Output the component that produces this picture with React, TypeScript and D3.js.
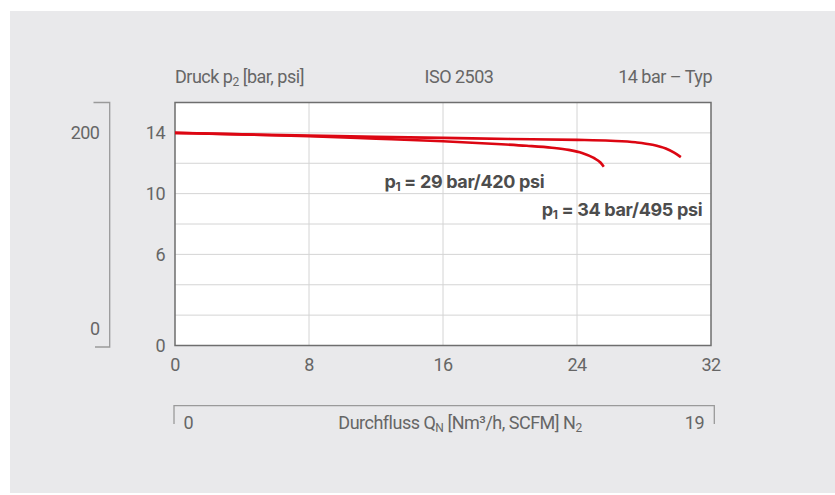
import React from "react";
import * as d3 from "d3";

// ---- data ----
const xTicks = [0, 8, 16, 24, 32];
const yTickLabels = [0, 6, 10, 14];
const yGrid = [2, 4, 6, 8, 10, 12, 14];
const xGrid = [8, 16, 24];
const psiTicks = [200, 0];

// p1 = 34 bar / 495 psi
const flow34 = [0, 4, 8, 12, 16, 20, 24, 26, 27.5, 28.5, 29.3, 29.8, 30.2];
const p2_34 = [14.0, 13.9, 13.82, 13.74, 13.67, 13.6, 13.54, 13.48, 13.38, 13.22, 12.97, 12.7, 12.4];
// p1 = 29 bar / 420 psi
const flow29 = [0, 4, 8, 12, 16, 19.2, 21, 22.5, 23.5, 24.3, 25.0, 25.4, 25.6];
const p2_29 = [14.0, 13.9, 13.78, 13.62, 13.45, 13.27, 13.15, 13.02, 12.88, 12.68, 12.35, 12.05, 11.77];

const seriesLabels = [
  { p: "29 bar/420 psi", x: 12.5, y: 10.4 },
  { p: "34 bar/495 psi", x: 21.9, y: 8.5 },
];

const W = 835;
const H = 495;
const M = { left: 175, right: 711, top: 102.5, bottom: 345.5 };
const FONT = "Roboto, 'Liberation Sans', sans-serif";
const GRAY = "#666";

export default function App() {
  const x = d3.scaleLinear().domain([0, 32]).range([M.left, M.right]);
  const y = d3.scaleLinear().domain([0, 16]).range([M.bottom, M.top]);
  const line = d3
    .line<[number, number]>()
    .x((d) => x(d[0]))
    .y((d) => y(d[1]))
    .curve(d3.curveMonotoneX);

  const s34 = flow34.map((f, i) => [f, p2_34[i]] as [number, number]);
  const s29 = flow29.map((f, i) => [f, p2_29[i]] as [number, number]);

  const psiY = (psi: number) => Math.min(y(psi / 14.5038), M.bottom - 14);

  const txt = {
    fontFamily: FONT,
    fontSize: 18,
    fill: GRAY,
    letterSpacing: "-0.5px",
  } as React.CSSProperties;

  return (
    <div style={{ position: "absolute", left: 0, top: 0 }}>
      <svg width={W} height={H} style={{ display: "block" }}>
        <rect x={10} y={11} width={W - 10} height={482} fill="#e9e9eb" />

        {/* header */}
        <text x={M.left} y={83} style={txt}>
          Druck p
          <tspan fontSize={12} dy={3}>2</tspan>
          <tspan dy={-3}> [bar, psi]</tspan>
        </text>
        <text x={459} y={83} textAnchor="middle" style={txt}>
          ISO 2503
        </text>
        <text x={M.right + 1} y={83} textAnchor="end" style={txt}>
          14 bar – Typ
        </text>

        {/* plot area */}
        <rect
          x={M.left}
          y={M.top}
          width={M.right - M.left}
          height={M.bottom - M.top}
          fill="#fff"
        />
        {yGrid.map((v) => (
          <line
            key={"h" + v}
            x1={M.left}
            x2={M.right}
            y1={y(v)}
            y2={y(v)}
            stroke="#d4d4d4"
            strokeWidth={1}
          />
        ))}
        {xGrid.map((v) => (
          <line
            key={"v" + v}
            x1={x(v)}
            x2={x(v)}
            y1={M.top}
            y2={M.bottom}
            stroke="#d4d4d4"
            strokeWidth={1}
          />
        ))}
        <rect
          x={M.left}
          y={M.top}
          width={M.right - M.left}
          height={M.bottom - M.top}
          fill="none"
          stroke="#6e6e6e"
          strokeWidth={1.5}
        />

        {/* curves */}
        <path d={line(s34) || ""} fill="none" stroke="#dc0612" strokeWidth={2.6} />
        <path d={line(s29) || ""} fill="none" stroke="#dc0612" strokeWidth={2.6} />

        {/* series labels */}
        {seriesLabels.map((l) => (
          <text
            key={l.p}
            x={x(l.x)}
            y={y(l.y)}
            style={{
              fontFamily: "Inter, 'Liberation Sans', Arial, sans-serif",
              fontSize: 18,
              fill: "#4d4d4d",
              fontWeight: 700,
              letterSpacing: "-0.35px",
            }}
          >
            p<tspan fontSize={12} dy={3}>1</tspan>
            <tspan dy={-3}> = {l.p}</tspan>
          </text>
        ))}

        {/* y tick labels */}
        {yTickLabels.map((v) => (
          <text
            key={"yt" + v}
            x={165}
            y={y(v)}
            dy="0.35em"
            textAnchor="end"
            style={txt}
          >
            {v}
          </text>
        ))}

        {/* x tick labels */}
        {xTicks.map((v) => (
          <text
            key={"xt" + v}
            x={x(v)}
            y={365}
            dy="0.35em"
            textAnchor="middle"
            style={txt}
          >
            {v}
          </text>
        ))}

        {/* psi bracket */}
        <path
          d={`M93.5,${M.top} H109.7 V347 H95`}
          fill="none"
          stroke="#9a9a9a"
          strokeWidth={1.3}
        />
        {psiTicks.map((v) => (
          <text
            key={"psi" + v}
            x={99.5}
            y={psiY(v) - 3}
            dy="0.35em"
            textAnchor="end"
            style={txt}
          >
            {v}
          </text>
        ))}

        {/* flow bracket */}
        <path
          d={`M174,424 V405.7 H714.3 V424`}
          fill="none"
          stroke="#9a9a9a"
          strokeWidth={1.3}
        />
        <text x={183.5} y={423} dy="0.35em" style={txt}>
          0
        </text>
        <text x={704} y={423} dy="0.35em" textAnchor="end" style={txt}>
          19
        </text>
        <text x={460} y={423} dy="0.35em" textAnchor="middle" style={txt}>
          Durchfluss Q<tspan fontSize={12} dy={3}>N</tspan>
          <tspan dy={-3}> [Nm³/h, SCFM] N</tspan>
          <tspan fontSize={12} dy={3}>2</tspan>
        </text>
      </svg>
    </div>
  );
}
